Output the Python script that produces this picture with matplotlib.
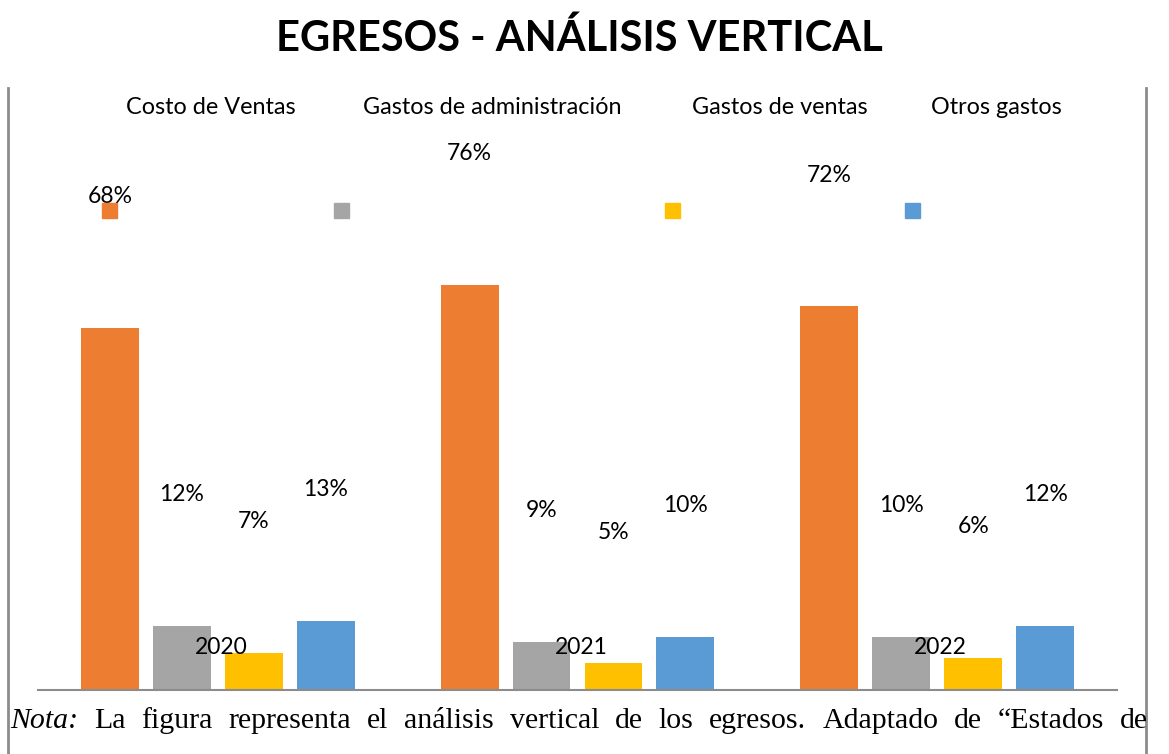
import matplotlib.pyplot as plt
from matplotlib.patches import Rectangle
from matplotlib.lines import Line2D
import numpy as np

years = ['2020', '2021', '2022']
series = ['Costo de Ventas', 'Gastos de administración', 'Gastos de ventas', 'Otros gastos']
costo = [68, 76, 72]
admin = [12, 9, 10]
ventas = [7, 5, 6]
otros = [13, 10, 12]
values = [costo, admin, ventas, otros]
colors = ['#ED7D31', '#A5A5A5', '#FFC000', '#5B9BD5']

W, H = 1169, 754
fig = plt.figure(figsize=(W / 100, H / 100), dpi=100)

# axes placed in pixel terms
ax_l, ax_r, ax_t, ax_b = 38, 1117, 88, 690
ax = fig.add_axes([ax_l / W, 1 - ax_b / H, (ax_r - ax_l) / W, (ax_b - ax_t) / H])
ax.set_xlim(-0.5, 2.5)
ax.set_ylim(0, (ax_b - ax_t) / 5.33)

x = np.arange(len(years))
bw = 0.161
step = 0.2
for k, (vals, c) in enumerate(zip(values, colors)):
    pos = x + (k - 1.5) * step
    ax.bar(pos, vals, width=bw, color=c, zorder=2)
    for p, v in zip(pos, vals):
        ax.text(p, v + 24.6, f'{v}%', ha='center', va='center',
                fontsize=16.5, family='Lato', color='black')

for xi, y in zip(x, years):
    ax.text(xi + 0.01, 7.9, y, ha='center', va='center', fontsize=16.5,
            family='Lato', color='black', zorder=3)

for s in ['top', 'left', 'right']:
    ax.spines[s].set_visible(False)
ax.spines['bottom'].set_color('#8c8c8c')
ax.spines['bottom'].set_linewidth(1.5)
ax.set_xticks([])
ax.set_yticks([])

# frame lines at the sides
for px in [8, 1146]:
    fig.add_artist(Line2D([px / W, px / W], [0, 1 - 88 / H], color='#8c8c8c', lw=2))

# title
fig.text(579 / W, 1 - 38 / H, 'EGRESOS - ANÁLISIS VERTICAL', ha='center', va='center',
         fontsize=30, fontweight='bold', family='Lato')

# legend, drawn by hand (labels and keys are offset in the original)
label_x = [211, 492, 780, 996]
key_x = [109, 341, 672, 912]
for name, lx, kx, c in zip(series, label_x, key_x, colors):
    fig.text(lx / W, 1 - 108 / H, name, ha='center', va='center', fontsize=16.8, family='Lato')
    fig.add_artist(Rectangle(((kx - 7.5) / W, 1 - (210 + 7.5) / H), 15 / W, 15 / H,
                             color=c, transform=fig.transFigure))

# justified note line
words = [('Nota:', 'italic'), ('La', 'normal'), ('figura', 'normal'), ('representa', 'normal'),
         ('el', 'normal'), ('análisis', 'normal'), ('vertical', 'normal'), ('de', 'normal'),
         ('los', 'normal'), ('egresos.', 'normal'), ('Adaptado', 'normal'), ('de', 'normal'),
         ('“Estados', 'normal'), ('de', 'normal')]
renderer = fig.canvas.get_renderer()
texts = []
widths = []
for w, st in words:
    t = fig.text(0, 1 - 728 / H, w, ha='left', va='baseline', fontsize=21.5,
                 family='Liberation Serif', style=st)
    texts.append(t)
    widths.append(t.get_window_extent(renderer).width)
x0, x1 = 10, 1148
gap = (x1 - x0 - sum(widths)) / (len(words) - 1)
cur = x0
for t, wd in zip(texts, widths):
    t.set_x(cur / W)
    cur += wd + gap

fig.savefig('out.png', dpi=100)
